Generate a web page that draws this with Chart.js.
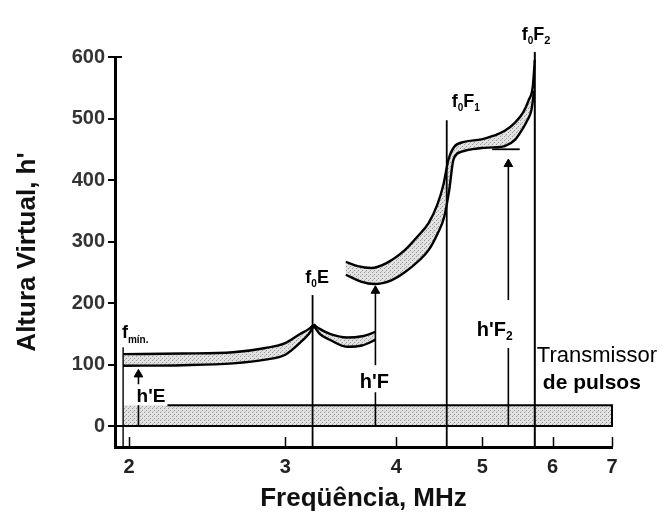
<!DOCTYPE html>
<html>
<head>
<meta charset="utf-8">
<script src="https://cdn.jsdelivr.net/npm/chart.js@4.4.1/dist/chart.umd.min.js"></script>
<style>
  html, body { margin: 0; padding: 0; background: #fff; }
</style>
</head>
<body>
<canvas id="c" width="666" height="519"></canvas>
<script>
// axis ticks
const xTicks = [2, 3, 4, 5, 6, 7];
const yTicks = [0, 100, 200, 300, 400, 500, 600];

// E trace, rising part up to the cusp at foE
const eRiseUpperF = [1.97, 2.3, 2.62, 2.85, 3.0, 3.12, 3.19, 3.23];
const eRiseUpperH = [117, 118, 120, 127, 135, 150, 158, 165];
const eRiseLowerF = [1.97, 2.3, 2.62, 2.85, 3.0, 3.12, 3.19, 3.23];
const eRiseLowerH = [98, 99, 102, 108, 116, 136, 150, 163];
// E trace after the cusp
const eFallUpperF = [3.23, 3.28, 3.38, 3.52, 3.66, 3.79];
const eFallUpperH = [165, 158, 149, 144, 146, 153];
const eFallLowerF = [3.23, 3.28, 3.37, 3.52, 3.66, 3.79];
const eFallLowerH = [163, 150, 140, 129, 131, 140];

// F trace (F1 + F2)
const fUpperF = [3.51, 3.62, 3.75, 3.9, 4.09, 4.22, 4.35, 4.45, 4.52, 4.58, 4.65, 4.77, 4.99, 5.15, 5.3, 5.44, 5.56, 5.64, 5.7, 5.73];
const fUpperH = [267, 260, 257, 265, 286, 307, 330, 360, 392, 433, 454, 462, 466, 472, 480, 493, 510, 530, 552, 595];
const fLowerF = [3.51, 3.65, 3.78, 3.95, 4.09, 4.25, 4.35, 4.45, 4.53, 4.59, 4.64, 4.74, 4.99, 5.15, 5.3, 5.45, 5.54, 5.62, 5.68, 5.72];
const fLowerH = [246, 235, 231, 237, 250, 270, 286, 312, 340, 384, 433, 446, 452, 453, 455, 466, 481, 497, 514, 545];

// transmitter pulse band
const pulseF = [1.97, 7];
const pulseH = [0, 34];

// critical / characteristic frequencies and virtual heights
const fMin = 1.97, foE = 3.22, foF1 = 4.56, foF2 = 5.73;
const hE = {f: 2.05, gap: [34, 68], tip: 84};
const hF = {f: 3.79, gap: [55, 99], tip: 220};
const hF2 = {f: 5.35, gap: [127, 205], tip: 426};
const hF2Level = {from: 5.13, to: 5.51, h: 450};

// text labels: [text, size, baseline shift] parts, placed at (freq, height)
const notes = [
  {f: 1.964, h: 143, parts: [['f', 18, 0], ['mín.', 10, 5]]},
  {f: 2.04, h: 39, parts: [["h'E", 19, 0]]},
  {f: 3.16, h: 233, parts: [['f', 18, 0], ['0', 10, 4], ['E', 18, 0]]},
  {f: 3.64, h: 62, parts: [["h'F", 20, 0]]},
  {f: 4.62, h: 519, parts: [['f', 18, 0], ['0', 10, 4], ['F', 18, 0], ['1', 10, 4]]},
  {f: 5.54, h: 628, parts: [['f', 18, 0], ['0', 10, 4], ['F', 18, 0], ['2', 11, 4]]},
  {f: 4.93, h: 146, parts: [["h'F", 20, 0], ['2', 12, 4]]},
  {f: 5.76, h: 104, parts: [['Transmissor', 22, 0]], weight: 'normal'},
  {f: 5.85, h: 60, parts: [['de pulsos', 21, 0]]}
];

const FONT = '"Liberation Sans", Arial, sans-serif';
Chart.defaults.font.family = FONT;

const pts = (fs, hs) => fs.map((f, i) => ({x: f, y: hs[i]}));

function stipple() {
  const c = document.createElement('canvas');
  c.width = 4; c.height = 4;
  const g = c.getContext('2d');
  g.fillStyle = '#e2e2e2'; g.fillRect(0, 0, 4, 4);
  g.fillStyle = '#9a9a9a'; g.fillRect(0, 0, 1, 1); g.fillRect(2, 2, 1, 1);
  g.fillStyle = '#c0c0c0'; g.fillRect(1, 3, 1, 1);
  return g.createPattern(c, 'repeat');
}
const dots = stipple();

const area = (data) => ({data, showLine: true, fill: 'shape', backgroundColor: dots,
  borderWidth: 0, borderColor: 'rgba(0,0,0,0)', tension: 0, pointRadius: 0});
const edge = (data, w) => ({data, showLine: true, fill: false, borderColor: '#000',
  borderWidth: w || 2.4, cubicInterpolationMode: 'monotone', pointRadius: 0});
const vline = (f, h0, h1, w) => edge([{x: f, y: h0}, {x: f, y: h1}], w || 1.6);
const arrow = (a) => [
  vline(a.f, 0, a.gap[0]),
  Object.assign(vline(a.f, a.gap[1], a.tip), {pointRadius: [0, 5], pointStyle: 'triangle',
    pointBackgroundColor: '#000', pointBorderColor: '#000', pointBorderWidth: 1})
];

const eUpper = pts(eRiseUpperF, eRiseUpperH).concat(pts(eFallUpperF, eFallUpperH).slice(1));
const eLower = pts(eRiseLowerF, eRiseLowerH).concat(pts(eFallLowerF, eFallLowerH).slice(1));

const yMin = -34;
// Chart.js paints the last dataset first, so the shaded areas go at the end
const datasets = [
  edge(pts(eRiseUpperF, eRiseUpperH)),
  edge(pts(eRiseLowerF, eRiseLowerH)),
  edge(pts(eFallUpperF, eFallUpperH)),
  edge(pts(eFallLowerF, eFallLowerH)),
  edge(pts(fUpperF, fUpperH)),
  edge(pts(fLowerF, fLowerH)),
  // pulse band outline
  Object.assign(edge([{x: 2.21, y: pulseH[1]}, {x: pulseF[1], y: pulseH[1]}, {x: pulseF[1], y: pulseH[0]}, {x: 1.929, y: pulseH[0]}], 2), {cubicInterpolationMode: 'default', tension: 0, clip: false}),
  vline(fMin, yMin, 128, 1.4),
  vline(foE, yMin, 213, 1.8),
  vline(foF1, yMin, 497, 1.8),
  Object.assign(vline(foF2, yMin, 608, 2), {clip: false}),
  ...arrow(hE), ...arrow(hF), ...arrow(hF2),
  edge([{x: hF2Level.from, y: hF2Level.h}, {x: hF2Level.to, y: hF2Level.h}], 1.8),
  area([{x: pulseF[0], y: pulseH[0]}, {x: pulseF[1], y: pulseH[0]}, {x: pulseF[1], y: pulseH[1]}, {x: pulseF[0], y: pulseH[1]}]),
  area(eUpper.concat(eLower.slice().reverse())),
  area(pts(fUpperF, fUpperH).concat(pts(fLowerF, fLowerH).reverse()))
];

const decor = {
  id: 'decor',
  afterDatasetsDraw(chart) {
    const {ctx, scales: {x, y}, chartArea} = chart;
    ctx.save();
    ctx.strokeStyle = '#000';
    ctx.lineWidth = 1.5;
    // inward ticks on the frequency axis
    xTicks.forEach(v => {
      const px = Math.round(x.getPixelForValue(v)) + 0.5;
      ctx.beginPath();
      ctx.moveTo(px, chartArea.bottom);
      ctx.lineTo(px, chartArea.bottom - 10);
      ctx.stroke();
    });
    // the top tick of the height axis turns inward
    const top = y.getPixelForValue(yTicks[yTicks.length - 1]);
    ctx.lineWidth = 2;
    ctx.beginPath();
    ctx.moveTo(chartArea.left, top);
    ctx.lineTo(chartArea.left + 7, top);
    ctx.stroke();
    // text labels
    ctx.fillStyle = '#000';
    ctx.textBaseline = 'alphabetic';
    notes.forEach(n => {
      let px = x.getPixelForValue(n.f);
      const py = y.getPixelForValue(n.h);
      n.parts.forEach(([t, size, dy]) => {
        ctx.font = (n.weight || 'bold') + ' ' + size + 'px ' + FONT;
        ctx.fillText(t, px, py + dy);
        px += ctx.measureText(t).width;
      });
    });
    ctx.restore();
  }
};

new Chart(document.getElementById('c'), {
  type: 'scatter',
  data: {datasets},
  options: {
    responsive: false,
    animation: false,
    layout: {padding: {left: 0, right: 54, top: 57, bottom: 5}},
    plugins: {legend: {display: false}, tooltip: {enabled: false}},
    scales: {
      x: {
        type: 'logarithmic',
        min: 1.929,
        max: 7,
        afterBuildTicks: s => { s.ticks = xTicks.map(v => ({value: v})); },
        afterFit: s => { s.height = 67; },
        grid: {display: false, drawTicks: false},
        border: {display: true, color: '#000', width: 3},
        ticks: {color: '#222', padding: 8, font: {size: 20, weight: 'bold'},
          callback: (v, i) => String(xTicks[i])},
        title: {display: true, text: 'Freqüência, MHz', color: '#111',
          font: {size: 26, weight: 'bold'}, padding: {top: 0, bottom: 0}}
      },
      y: {
        min: yMin,
        max: 600,
        afterBuildTicks: s => { s.ticks = yTicks.map(v => ({value: v})); },
        afterFit: s => { s.width = 115; },
        grid: {drawOnChartArea: false, drawTicks: true, tickLength: 7, color: '#000', lineWidth: 2},
        border: {display: true, color: '#000', width: 3},
        ticks: {color: '#333', padding: 3, font: {size: 20, weight: 'bold'}},
        title: {display: true, text: "Altura Virtual, h'", color: '#111',
          font: {size: 26, weight: 'bold'}, padding: {top: 12, bottom: 0}}
      }
    }
  },
  plugins: [decor]
});
</script>
</body>
</html>
